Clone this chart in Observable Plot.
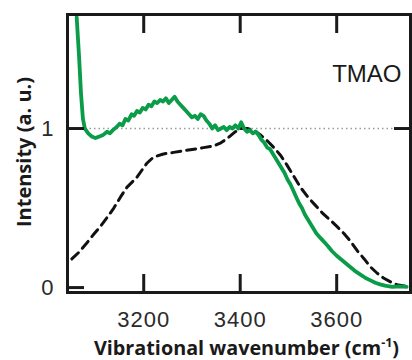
<!DOCTYPE html>
<html><head><meta charset="utf-8">
<script src="https://cdn.jsdelivr.net/npm/d3@7"></script>
<script src="https://cdn.jsdelivr.net/npm/@observablehq/plot@0.6"></script>
<style>body{margin:0;background:#fff}</style>
</head><body><div id="chart"></div>
<script>
// TMAO spectrum (green, solid)
const greenWavenumber = [3061,3066,3070,3074,3078,3085,3092,3100,3108,3116,3124,3130,3136,3144,3150,3156,3162,3168,3175,3180,3186,3192,3198,3204,3210,3216,3222,3228,3234,3240,3246,3252,3258,3264,3270,3276,3282,3288,3294,3300,3306,3312,3318,3324,3330,3336,3342,3348,3354,3360,3366,3372,3378,3384,3390,3396,3402,3408,3414,3420,3426,3432,3438,3444,3450,3456,3462,3468,3474,3480,3486,3492,3498,3504,3510,3516,3522,3528,3534,3540,3546,3552,3558,3564,3570,3576,3582,3590,3600,3610,3620,3630,3640,3650,3660,3670,3680,3690,3700,3715,3730,3745];
const greenIntensity = [1.70,1.45,1.22,1.06,1.00,0.97,0.95,0.94,0.95,0.96,0.98,0.97,0.99,1.01,1.03,1.02,1.06,1.05,1.09,1.08,1.11,1.10,1.13,1.12,1.15,1.14,1.17,1.16,1.18,1.17,1.19,1.16,1.18,1.20,1.17,1.15,1.13,1.11,1.09,1.07,1.08,1.06,1.09,1.08,1.05,1.03,1.00,1.02,0.99,1.00,1.01,0.99,1.01,1.00,1.02,1.00,1.04,1.00,0.98,0.99,0.97,0.98,0.96,0.93,0.91,0.88,0.87,0.84,0.81,0.78,0.75,0.72,0.68,0.65,0.61,0.57,0.53,0.50,0.46,0.43,0.40,0.37,0.34,0.32,0.30,0.28,0.26,0.23,0.20,0.175,0.15,0.125,0.10,0.08,0.06,0.045,0.03,0.02,0.012,0.005,0.008,0.004];
// reference spectrum (black, dashed)
const dashWavenumber = [3051,3065,3082,3095,3109,3124,3138,3152,3165,3185,3206,3220,3241,3262,3283,3304,3324,3345,3360,3374,3390,3401,3415,3428,3442,3457,3470,3484,3497,3511,3525,3540,3555,3570,3588,3602,3615,3629,3643,3657,3670,3684,3697,3712,3725,3740,3752];
const dashIntensity = [0.18,0.22,0.28,0.33,0.38,0.44,0.50,0.57,0.63,0.69,0.78,0.82,0.84,0.85,0.86,0.87,0.88,0.89,0.91,0.94,0.98,1.00,1.00,0.99,0.96,0.92,0.88,0.83,0.77,0.70,0.63,0.57,0.52,0.47,0.42,0.38,0.34,0.29,0.23,0.18,0.13,0.09,0.06,0.035,0.018,0.01,0.005];

const xTicks = [3200, 3400, 3600];
const yTicks = [0, 1];
const yRightTicks = [1];
const referenceLevel = [1];
const sampleLabel = ["TMAO"];
const xTitleMain = "Vibrational wavenumber (cm";
const xTitleSup = "-1";
const xTitleEnd = ")";
const yTitle = "Intensity (a. u.)";

const green = greenWavenumber.map((x, i) => ({x, y: greenIntensity[i]}));
const dashed = dashWavenumber.map((x, i) => ({x, y: dashIntensity[i]}));

const tickFont = "'Liberation Sans', Arial, sans-serif";

const chart = Plot.plot({
  width: 412,
  height: 360,
  marginLeft: 67,
  marginRight: 2,
  marginTop: 14,
  marginBottom: 68,
  x: {domain: [3042, 3753]},
  y: {domain: [-0.031, 1.717]},
  style: {fontFamily: tickFont, background: "#fff", color: "#222"},
  marks: [
    Plot.ruleY(referenceLevel, {stroke: "#9a9a9a", strokeWidth: 1.5, strokeDasharray: "1.5,3"}),
    Plot.line(dashed, {x: "x", y: "y", stroke: "#111", strokeWidth: 3, strokeDasharray: "9,6"}),
    Plot.line(green, {x: "x", y: "y", stroke: "#0a9c48", strokeWidth: 3.8, strokeLinejoin: "round"}),
    Plot.frame({stroke: "#1a1a1a", strokeWidth: 3}),
    Plot.axisX(xTicks, {anchor: "bottom", tickSize: -18, strokeWidth: 3, stroke: "#1a1a1a", fill: "none", label: null}),
    Plot.axisX(xTicks, {anchor: "top", tickSize: -18, strokeWidth: 3, stroke: "#1a1a1a", fill: "none", label: null}),
    Plot.axisX(xTicks, {anchor: "bottom", tickSize: 0, tickPadding: 19, fontSize: 22, fill: "#2a2a2a", label: null, tickFormat: d => String(d)}),
    Plot.axisY(yTicks, {anchor: "left", tickSize: -17, strokeWidth: 3, stroke: "#1a1a1a", fill: "none", label: null}),
    Plot.axisY(yRightTicks, {anchor: "right", tickSize: -17, strokeWidth: 3, stroke: "#1a1a1a", fill: "none", label: null}),
    Plot.axisY(yTicks, {anchor: "left", tickSize: 0, tickPadding: 14, fontSize: 22, fill: "#2a2a2a", label: null, tickFormat: d => String(d)}),
    Plot.text(sampleLabel, {frameAnchor: "top-right", dx: -9, dy: 50, textAnchor: "end", fontSize: 24, fill: "#1a1a1a"})
  ]
});

const svg = d3.select(chart);
svg.selectAll("g[aria-label='x-axis tick label'] text").attr("letter-spacing", "1");

svg.append("text")
  .attr("transform", "translate(23,152) rotate(-90)")
  .attr("text-anchor", "middle")
  .attr("dominant-baseline", "central")
  .attr("font-family", "'Open Sans', sans-serif")
  .attr("font-weight", "bold")
  .attr("font-size", 20)
  .attr("fill", "#1a1a1a")
  .text(yTitle);

const xt = svg.append("text")
  .attr("x", 246.5)
  .attr("y", 355)
  .attr("text-anchor", "middle")
  .attr("font-family", "'Open Sans', sans-serif")
  .attr("font-weight", "bold")
  .attr("font-size", 19.8)
  .attr("fill", "#1a1a1a");
xt.append("tspan").text(xTitleMain);
xt.append("tspan").attr("font-size", 12.5).attr("dy", -8).text(xTitleSup);
xt.append("tspan").attr("dy", 8).text(xTitleEnd);

document.getElementById("chart").appendChild(chart);
</script>
</body></html>
